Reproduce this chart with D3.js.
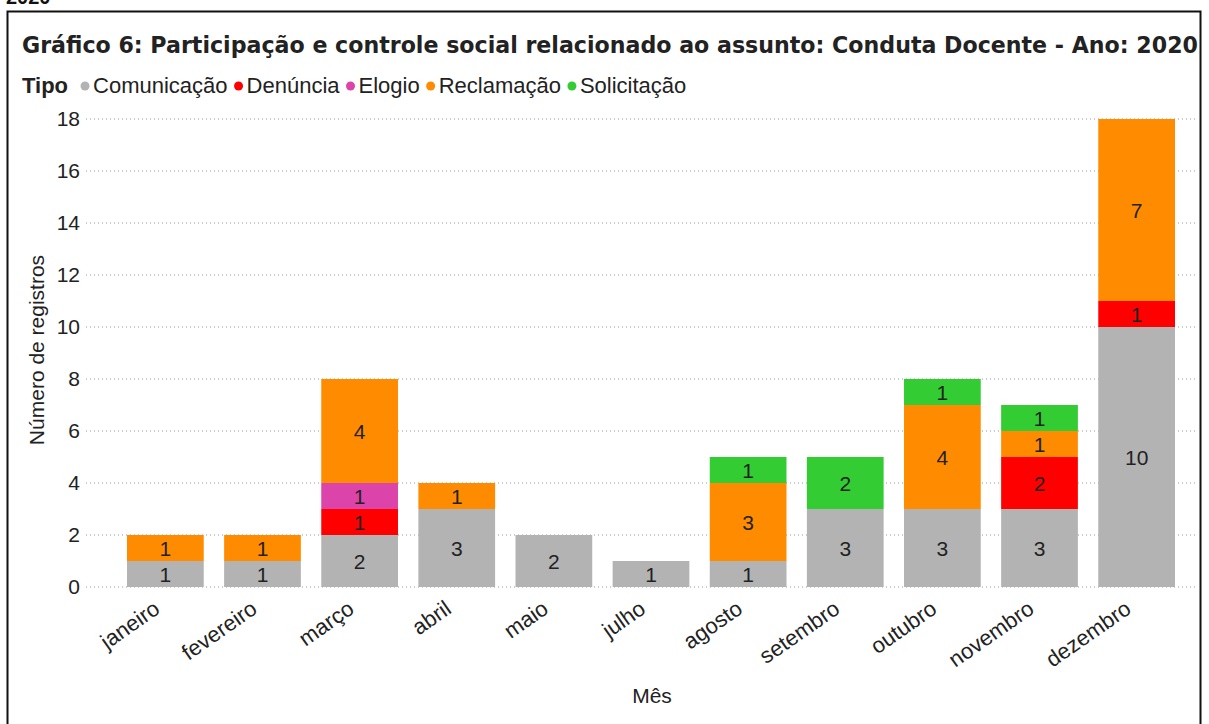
<!DOCTYPE html>
<html><head><meta charset="utf-8">
<script src="https://cdn.jsdelivr.net/npm/d3@7"></script>
<style>body{margin:0;background:#fff;font-family:"Liberation Sans",Arial,sans-serif;}</style>
</head><body><svg id="c" width="1209" height="724"></svg>
<script>
const months = ["janeiro","fevereiro","março","abril","maio","julho","agosto","setembro","outubro","novembro","dezembro"];
const types = ["Comunicação","Denúncia","Elogio","Reclamação","Solicitação"];
const comunicacao = [1,1,2,3,2,1,1,3,3,3,10];
const denuncia    = [0,0,1,0,0,0,0,0,0,2,1];
const elogio      = [0,0,1,0,0,0,0,0,0,0,0];
const reclamacao  = [1,1,4,1,0,0,3,0,4,1,7];
const solicitacao = [0,0,0,0,0,0,1,2,1,1,0];
const yTicks = [0,2,4,6,8,10,12,14,16,18];
const colors = ["#b3b3b3","#ff0000","#dd44aa","#ff8c00","#33cc33"];

const series = [comunicacao,denuncia,elogio,reclamacao,solicitacao];
const table = months.map((m,i)=>{const o={month:m}; types.forEach((t,k)=>o[t]=series[k][i]); return o;});
const FS = 21;
const svg = d3.select("#c");
// outer frame
svg.append("rect").attr("x",7.5).attr("y",11.5).attr("width",1193).attr("height",720).attr("fill","none").attr("stroke","#111").attr("stroke-width",2);
svg.append("text").attr("x",6).attr("y",4).attr("font-weight","bold").attr("font-size",20).attr("fill","#111").text("2020");

const title = svg.append("text").attr("x",22).attr("y",53).attr("font-weight","bold")
  .attr("font-family","DejaVu Sans, sans-serif").attr("font-size",19).attr("fill","#222")
  .text("Gráfico 6: Participação e controle social relacionado ao assunto: Conduta Docente - Ano: 2020");
{ const w = title.node().getComputedTextLength(); title.attr("font-size", 19*1177/w); }

// legend
const lg = svg.append("g");
const LFS = 22;
const tipo = lg.append("text").attr("x",22).attr("y",93).attr("font-weight","bold").attr("font-size",LFS).attr("fill","#222").text("Tipo");
let lx = 22 + tipo.node().getComputedTextLength() + 17;
types.forEach((t,k)=>{
  lg.append("circle").attr("cx",lx).attr("cy",86).attr("r",4.5).attr("fill",colors[k]);
  const tx = lg.append("text").attr("x",lx+8).attr("y",93).attr("font-size",LFS).attr("fill","#222").text(t);
  lx += 8 + tx.node().getComputedTextLength() + 11;
});

const x = d3.scaleBand().domain(months).range([116.8,1185.2]).paddingInner(0.21).paddingOuter(0.105);
const y = d3.scaleLinear().domain([0,18]).range([587,119]);

// grid
svg.append("g").selectAll("line").data(yTicks).join("line")
  .attr("x1",86).attr("x2",1196).attr("y1",d=>y(d)).attr("y2",d=>y(d))
  .attr("stroke","#999").attr("stroke-width",1).attr("stroke-dasharray","1,3");

// y axis
const ya = svg.append("g").attr("transform","translate(80,0)")
  .call(d3.axisLeft(y).tickValues(yTicks).tickSize(0).tickPadding(0));
ya.select(".domain").remove();
ya.selectAll("text").attr("font-size",FS).attr("fill","#222").attr("font-family","Liberation Sans, Arial, sans-serif");

svg.append("text").attr("transform","translate(44,350) rotate(-90)").attr("text-anchor","middle")
  .attr("font-size",FS).attr("fill","#222").text("Número de registros");

// bars
const stack = d3.stack().keys(types)(table);
const g = svg.append("g");
stack.forEach((s,k)=>{
  g.selectAll(null).data(s.filter(d=>d[1]-d[0]>0)).join("rect")
    .attr("x",d=>x(d.data.month)).attr("width",x.bandwidth())
    .attr("y",d=>y(d[1])).attr("height",d=>y(d[0])-y(d[1]))
    .attr("fill",colors[k]);
  g.selectAll(null).data(s.filter(d=>d[1]-d[0]>0)).join("text")
    .attr("x",d=>x(d.data.month)+x.bandwidth()/2).attr("y",d=>(y(d[0])+y(d[1]))/2)
    .attr("dy","0.36em").attr("text-anchor","middle").attr("font-size",FS).attr("fill","#222")
    .text(d=>d[1]-d[0]);
});

// x axis labels
const xa = svg.append("g").attr("transform","translate(0,587)")
  .call(d3.axisBottom(x).tickSize(0).tickPadding(0));
xa.select(".domain").remove();
xa.selectAll("text").attr("font-size",22).attr("fill","#222").attr("font-family","Liberation Sans, Arial, sans-serif")
  .attr("text-anchor","end").attr("dy",0).attr("y",0)
  .attr("transform","translate(-4,25) rotate(-35)");

svg.append("text").attr("x",652).attr("y",703).attr("text-anchor","middle").attr("font-size",FS).attr("fill","#222").text("Mês");
</script></body></html>
